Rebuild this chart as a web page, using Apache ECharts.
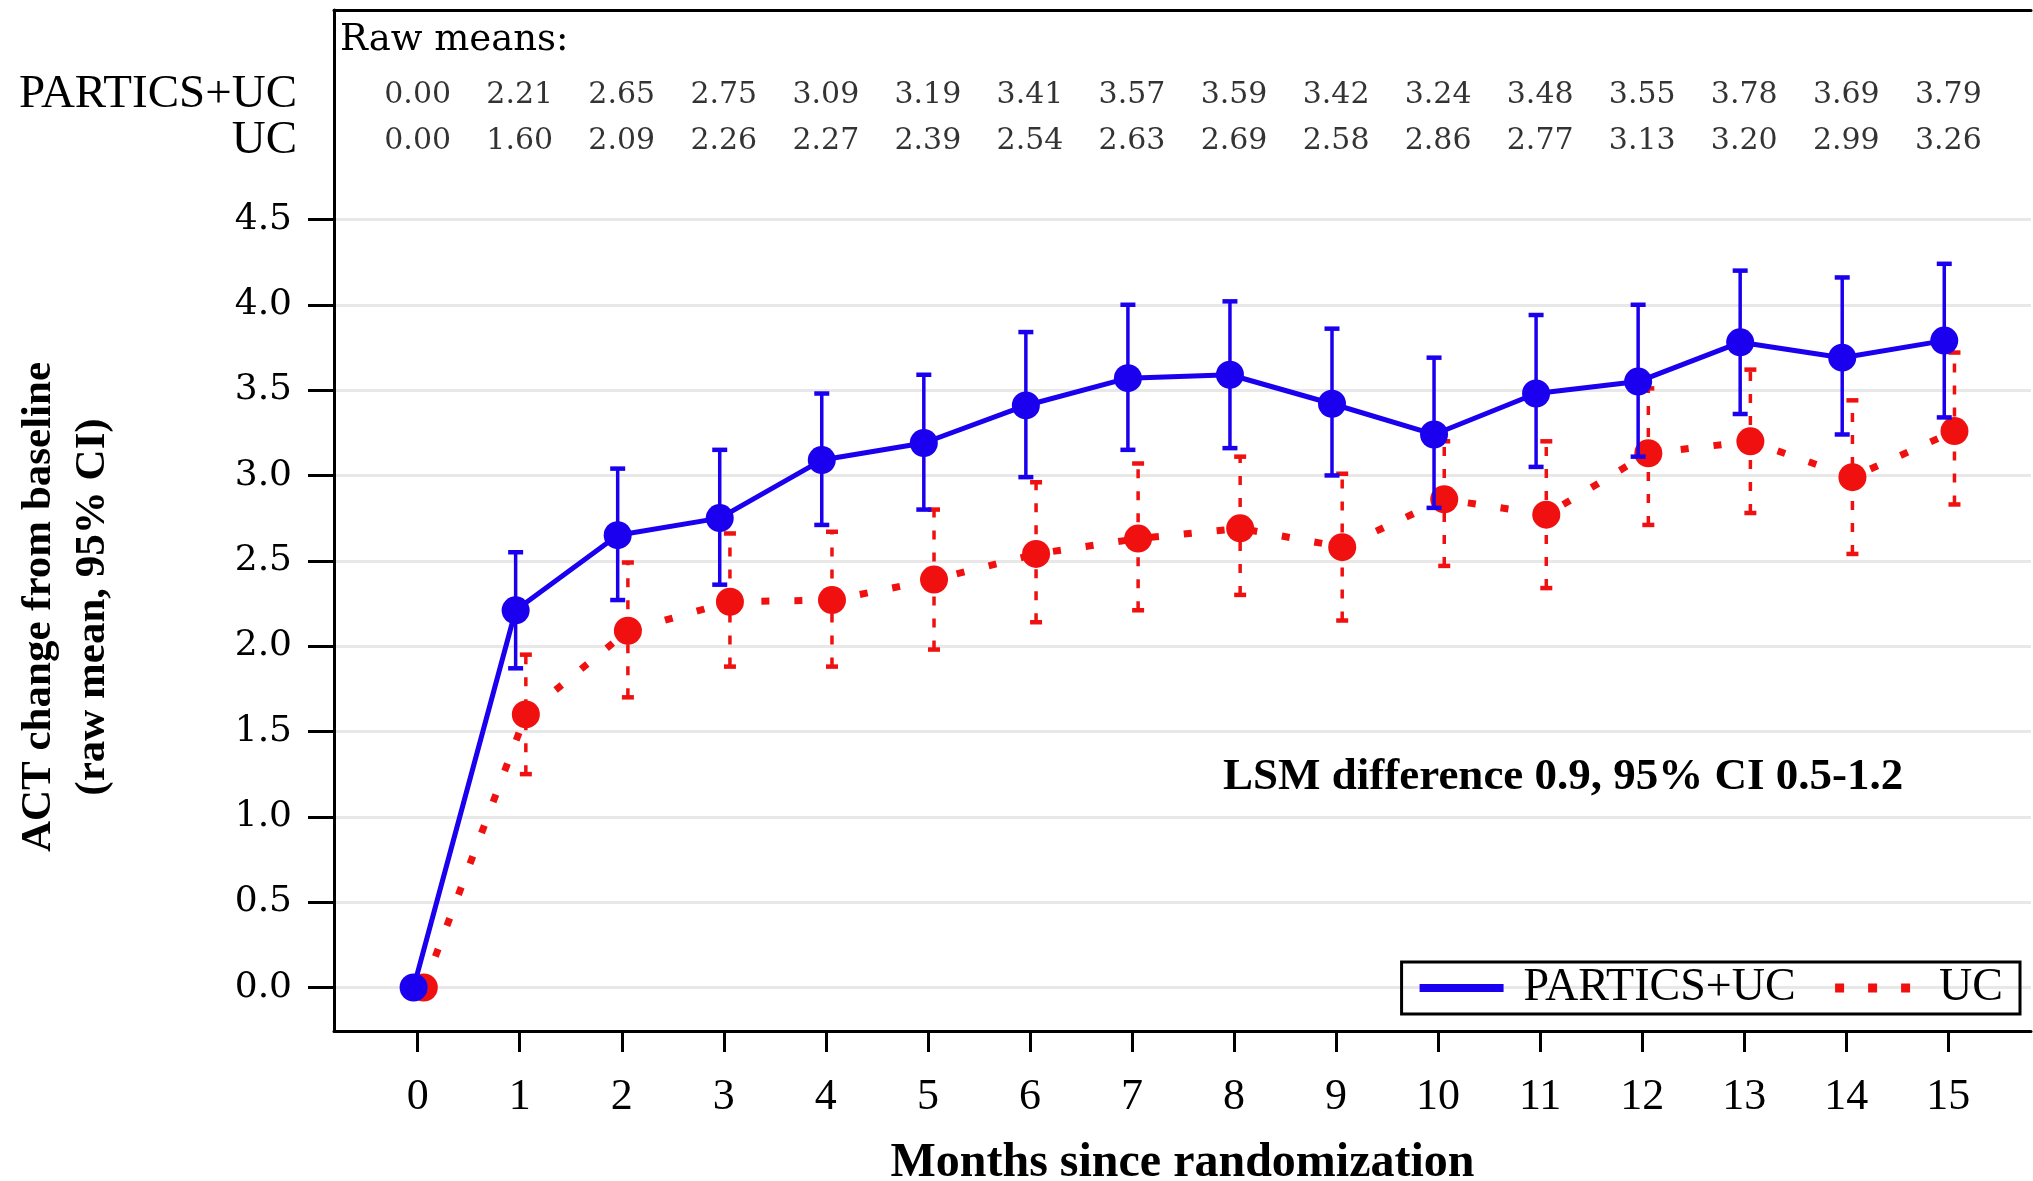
<!DOCTYPE html>
<html>
<head>
<meta charset="utf-8">
<script src="https://cdn.jsdelivr.net/npm/echarts@6/dist/echarts.min.js"></script>
<style>
  html, body { margin: 0; padding: 0; background: #fff; }
  #chart { width: 2033px; height: 1181px; }
</style>
</head>
<body>
<div id="chart"></div>
<script>
// months since randomization
var months = [0, 1, 2, 3, 4, 5, 6, 7, 8, 9, 10, 11, 12, 13, 14, 15];
var yTicks = [0, 0.5, 1, 1.5, 2, 2.5, 3, 3.5, 4, 4.5];

// raw means
var particsMean = [0.00, 2.21, 2.65, 2.75, 3.09, 3.19, 3.41, 3.57, 3.59, 3.42, 3.24, 3.48, 3.55, 3.78, 3.69, 3.79];
var ucMean      = [0.00, 1.60, 2.09, 2.26, 2.27, 2.39, 2.54, 2.63, 2.69, 2.58, 2.86, 2.77, 3.13, 3.20, 2.99, 3.26];

// 95% CI (no bar at month 0)
var particsLower = [null, 1.87, 2.27, 2.36, 2.71, 2.80, 2.99, 3.15, 3.16, 3.00, 2.81, 3.05, 3.11, 3.36, 3.24, 3.34];
var particsUpper = [null, 2.55, 3.04, 3.15, 3.48, 3.59, 3.84, 4.00, 4.02, 3.86, 3.69, 3.94, 4.00, 4.20, 4.16, 4.24];
var ucLower      = [null, 1.25, 1.70, 1.88, 1.88, 1.98, 2.14, 2.21, 2.30, 2.15, 2.47, 2.34, 2.71, 2.78, 2.54, 2.83];
var ucUpper      = [null, 1.95, 2.49, 2.66, 2.67, 2.80, 2.96, 3.07, 3.11, 3.01, 3.20, 3.20, 3.51, 3.62, 3.44, 3.72];

var BLUE = '#1a00ee';
var RED = '#f01010';
// small horizontal shift so the two groups don't overlap
var particsShift = -0.04;
var ucShift = 0.06;
// rows of the raw means table (in axis units, above the plotted range)
var rowParticsY = 5.23;
var rowUcY = 4.96;

var serif = 'Liberation Serif';
var serifWide = 'DejaVu Serif';

function points(mean, shift) {
    return months.map(function (m, i) { return [m + shift, mean[i]]; });
}
function ciData(lower, upper, shift) {
    var res = [];
    for (var i = 0; i < months.length; i++) {
        if (lower[i] != null) res.push([months[i] + shift, lower[i], upper[i]]);
    }
    return res;
}
function tableRow(mean, rowY) {
    return months.map(function (m, i) { return [m, rowY, mean[i]]; });
}

function errorBar(color, dash, capW, width) {
    return function (params, api) {
        var x = api.value(0);
        var lo = api.coord([x, api.value(1)]);
        var hi = api.coord([x, api.value(2)]);
        var st = { stroke: color, lineWidth: width, lineDash: dash };
        var capSt = { stroke: color, lineWidth: width + 1 };
        return {
            type: 'group',
            children: [
                { type: 'line', shape: { x1: lo[0], y1: lo[1], x2: hi[0], y2: hi[1] }, style: st },
                { type: 'line', shape: { x1: hi[0] - capW / 2, y1: hi[1], x2: hi[0] + capW / 2, y2: hi[1] }, style: capSt },
                { type: 'line', shape: { x1: lo[0] - capW / 2, y1: lo[1], x2: lo[0] + capW / 2, y2: lo[1] }, style: capSt }
            ]
        };
    };
}

var tableLabel = {
    show: true,
    position: 'inside',
    color: '#000',
    fontFamily: serifWide,
    fontSize: 30,
    formatter: function (p) { return p.value[2].toFixed(2); }
};

var option = {
    backgroundColor: '#fff',
    animation: false,
    grid: { left: 334, top: 10, right: 2, bottom: 150, outerBoundsMode: 'none', containLabel: false },
    legend: {
        data: [
            { name: 'PARTICS+UC', lineStyle: { width: 8 } },
            { name: 'UC', lineStyle: { width: 9, type: [9, 24] } }
        ],
        right: 13,
        top: 962,
        orient: 'horizontal',
        itemWidth: 84,
        itemHeight: 20,
        itemGap: 35,
        padding: [3, 17, 3, 14],
        borderColor: '#000',
        borderWidth: 3,
        itemStyle: { opacity: 0 },
        textStyle: { fontFamily: serif, fontSize: 46, color: '#000', padding: [0, 0, 0, 15] }
    },
    xAxis: [{
        type: 'value',
        min: -0.82,
        max: 15.81,
        name: 'Months since randomization',
        nameLocation: 'middle',
        nameGap: 109,
        nameTextStyle: { fontFamily: serif, fontSize: 48, fontWeight: 'bold', color: '#000' },
        axisLine: { show: true, onZero: false, lineStyle: { color: '#000', width: 3 } },
        axisTick: { show: true, length: 21, lineStyle: { color: '#000', width: 3 }, customValues: months },
        axisLabel: { customValues: months, margin: 44, fontFamily: serif, fontSize: 44, color: '#000' },
        splitLine: { show: false }
    }, {
        type: 'value',
        position: 'top',
        min: -0.82,
        max: 15.81,
        axisLine: { show: true, onZero: false, lineStyle: { color: '#000', width: 3 } },
        axisTick: { show: false },
        axisLabel: { show: false },
        splitLine: { show: false }
    }],
    yAxis: {
        type: 'value',
        min: -0.255,
        max: 5.727,
        axisLine: { show: true, onZero: false, lineStyle: { color: '#000', width: 3 } },
        axisTick: { show: true, length: 26, lineStyle: { color: '#000', width: 3 }, customValues: yTicks },
        axisLabel: {
            customValues: yTicks, margin: 42, fontFamily: serifWide, fontSize: 36, color: '#000',
            formatter: function (v) { return v.toFixed(1); }
        },
        splitLine: { show: true, lineStyle: { color: '#e8e8e8', width: 3 } }
    },
    graphic: [
        {
            type: 'text', left: 340, top: 22,
            style: { text: 'Raw means:', font: '37px "DejaVu Serif"', fill: '#000' }
        },
        {
            type: 'text', x: 297, y: 95,
            style: { text: 'PARTICS+UC', font: '47px "Liberation Serif"', fill: '#000', align: 'right', verticalAlign: 'middle' }
        },
        {
            type: 'text', x: 297, y: 141,
            style: { text: 'UC', font: '47px "Liberation Serif"', fill: '#000', align: 'right', verticalAlign: 'middle' }
        },
        {
            type: 'text', x: 1223, y: 777,
            style: { text: 'LSM difference 0.9, 95% CI 0.5-1.2', font: 'bold 45px "Liberation Serif"', fill: '#000', verticalAlign: 'middle' }
        },
        {
            type: 'text', x: 66, y: 607, rotation: Math.PI / 2,
            style: {
                text: 'ACT change from baseline\n(raw mean, 95% CI)',
                font: 'bold 43px "Liberation Serif"', fill: '#000',
                align: 'center', verticalAlign: 'middle', lineHeight: 54
            }
        }
    ],
    series: [
        {
            name: 'UC-ci',
            type: 'custom',
            data: ciData(ucLower, ucUpper, ucShift),
            renderItem: errorBar(RED, [9, 13], 12, 3.5),
            encode: { x: 0, y: [1, 2] },
            z: 2
        },
        {
            name: 'UC',
            type: 'line',
            data: points(ucMean, ucShift),
            symbol: 'circle',
            symbolSize: 28,
            itemStyle: { color: RED },
            lineStyle: { color: RED, width: 7, type: [8, 25] },
            z: 3
        },
        {
            name: 'PARTICS+UC-ci',
            type: 'custom',
            data: ciData(particsLower, particsUpper, particsShift),
            renderItem: errorBar(BLUE, null, 15, 3.5),
            encode: { x: 0, y: [1, 2] },
            z: 4
        },
        {
            name: 'PARTICS+UC',
            type: 'line',
            data: points(particsMean, particsShift),
            symbol: 'circle',
            symbolSize: 28,
            itemStyle: { color: BLUE },
            lineStyle: { color: BLUE, width: 5 },
            z: 5
        },
        {
            name: 'table-partics',
            type: 'scatter',
            data: tableRow(particsMean, rowParticsY),
            symbolSize: 1,
            itemStyle: { color: 'rgba(0,0,0,0)' },
            label: tableLabel,
            silent: true
        },
        {
            name: 'table-uc',
            type: 'scatter',
            data: tableRow(ucMean, rowUcY),
            symbolSize: 1,
            itemStyle: { color: 'rgba(0,0,0,0)' },
            label: tableLabel,
            silent: true
        }
    ]
};

var chart = echarts.init(document.getElementById('chart'));
chart.setOption(option);
</script>
</body>
</html>
